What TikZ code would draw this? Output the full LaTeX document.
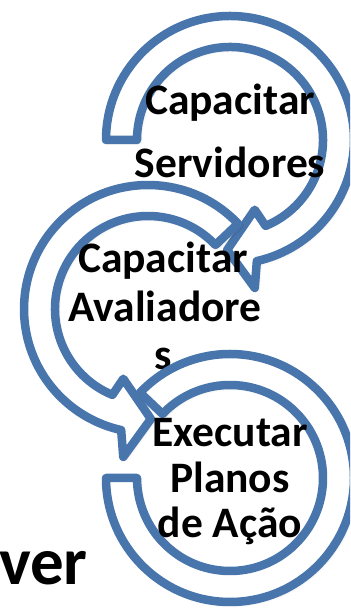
\documentclass[tikz,border=0pt]{standalone}
\usepackage{fontspec}
\setmainfont{Carlito}
\usetikzlibrary{shadows.blur}
\definecolor{arrowblue}{RGB}{71,117,172}
\begin{document}
\begin{tikzpicture}[x=1pt,y=1pt,
  ring/.style={draw=arrowblue, line width=8.5pt, fill=white, line join=round,
    blur shadow={shadow xshift=1.5pt, shadow yshift=-1.5pt, shadow blur radius=4pt, shadow opacity=30}},
  lbl/.style={font=\bfseries\fontsize{43.5}{43.5}\selectfont, inner sep=0pt, anchor=base},
  big/.style={font=\bfseries\fontsize{67}{67}\selectfont, inner sep=0pt, anchor=base west}]
\useasboundingbox (0,0) rectangle (350,609);
\clip (0,0) rectangle (350,609);
% top arrow
\begin{scope}[shift={(230,469)}]
  \draw[ring] (180:124) arc[start angle=180,end angle=-77.5,radius=124]
    -- (-80.5:150) -- (-91.5:110) -- (-70.5:74) -- (-67.5:93)
    arc[start angle=-67.5,end angle=180,radius=93] -- cycle;
\end{scope}
\node[lbl] (t1) at (230,494) {Capacitar};
\node[lbl] (t2) at (230,431) {Servidores};
% middle arrow
\begin{scope}[shift={(148,300)}]
  \draw[ring] (43.5:124) arc[start angle=43.5,end angle=257.5,radius=124]
    -- (260.5:150) -- (271.5:110) -- (250.5:74) -- (247.5:93)
    arc[start angle=247.5,end angle=43.5,radius=93] -- cycle;
\end{scope}
\node[lbl] (m1) at (163,336) {Capacitar};
\node[lbl] (m2) at (165,287) {Avaliadore};
\node[lbl] (m3) at (163,239) {s};
% bottom arrow
\begin{scope}[shift={(230,131)}]
  \draw[ring] (180:124) arc[start angle=180,end angle=496.5,radius=124]
    -- (496.5:93) arc[start angle=496.5,end angle=180,radius=93] -- cycle;
\end{scope}
\node[lbl] (b1) at (230,162) {Executar};
\node[lbl] (b2) at (230,116) {Planos};
\node[lbl] (b3) at (230,71) {de Ação};
\node[big] (v) at (-1,24) {ver};
\end{tikzpicture}
\end{document}
